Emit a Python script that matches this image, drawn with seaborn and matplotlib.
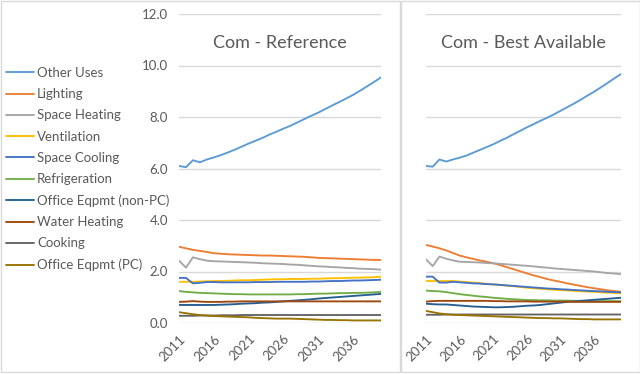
import matplotlib
matplotlib.use('Agg')
import matplotlib.pyplot as plt
from matplotlib.patches import Rectangle
from matplotlib.lines import Line2D
import pandas as pd
import seaborn as sns

# Data
years = list(range(2011, 2041))
uses = ['Other Uses', 'Lighting', 'Space Heating', 'Ventilation', 'Space Cooling',
        'Refrigeration', 'Office Eqpmt (non-PC)', 'Water Heating', 'Cooking', 'Office Eqpmt (PC)']
colors = ['#5B9BD5', '#ED7D31', '#A5A5A5', '#FFC000', '#4472C4',
          '#70AD47', '#255E91', '#9E480E', '#636363', '#997300']
xtick_years = [2011, 2016, 2021, 2026, 2031, 2036]
yticks = [0, 2, 4, 6, 8, 10, 12]

# Com - Reference
ref_other_uses = [6.10, 6.05, 6.32, 6.24, 6.35, 6.43, 6.52, 6.62, 6.73, 6.85,
                  6.97, 7.08, 7.19, 7.32, 7.43, 7.55, 7.66, 7.79, 7.92, 8.05,
                  8.17, 8.31, 8.45, 8.58, 8.72, 8.86, 9.02, 9.19, 9.36, 9.54]
ref_lighting = [2.96, 2.90, 2.84, 2.80, 2.76, 2.71, 2.69, 2.67, 2.66, 2.65,
                2.64, 2.63, 2.62, 2.62, 2.61, 2.60, 2.59, 2.58, 2.57, 2.55,
                2.53, 2.52, 2.51, 2.50, 2.49, 2.48, 2.47, 2.46, 2.45, 2.45]
ref_space_heating = [2.42, 2.15, 2.55, 2.48, 2.42, 2.40, 2.39, 2.38, 2.37, 2.36,
                     2.35, 2.34, 2.32, 2.31, 2.30, 2.29, 2.27, 2.26, 2.24, 2.22,
                     2.20, 2.19, 2.17, 2.16, 2.14, 2.13, 2.11, 2.10, 2.09, 2.07]
ref_ventilation = [1.60, 1.60, 1.60, 1.61, 1.62, 1.63, 1.63, 1.64, 1.65, 1.66,
                   1.66, 1.67, 1.68, 1.69, 1.70, 1.70, 1.71, 1.71, 1.71, 1.72,
                   1.72, 1.73, 1.74, 1.74, 1.75, 1.76, 1.76, 1.77, 1.78, 1.80]
ref_space_cooling = [1.75, 1.75, 1.54, 1.56, 1.59, 1.59, 1.58, 1.58, 1.58, 1.58,
                     1.58, 1.59, 1.59, 1.59, 1.60, 1.60, 1.60, 1.60, 1.60, 1.61,
                     1.61, 1.62, 1.63, 1.63, 1.64, 1.65, 1.65, 1.66, 1.67, 1.68]
ref_refrigeration = [1.24, 1.21, 1.19, 1.17, 1.16, 1.15, 1.14, 1.13, 1.12, 1.12,
                     1.11, 1.11, 1.11, 1.11, 1.11, 1.11, 1.11, 1.12, 1.12, 1.13,
                     1.14, 1.14, 1.15, 1.16, 1.16, 1.17, 1.17, 1.18, 1.19, 1.21]
ref_office_nonpc = [0.70, 0.70, 0.70, 0.70, 0.70, 0.70, 0.71, 0.72, 0.73, 0.75,
                    0.76, 0.77, 0.79, 0.80, 0.82, 0.84, 0.86, 0.88, 0.90, 0.92,
                    0.95, 0.97, 0.99, 1.01, 1.03, 1.05, 1.07, 1.09, 1.11, 1.13]
ref_water_heating = [0.82, 0.83, 0.85, 0.83, 0.82, 0.82, 0.82, 0.83, 0.83, 0.84,
                     0.84, 0.84, 0.84, 0.84, 0.84, 0.84, 0.84, 0.84, 0.84, 0.84,
                     0.84, 0.84, 0.84, 0.84, 0.84, 0.84, 0.84, 0.84, 0.84, 0.84]
ref_cooking = [0.28, 0.28, 0.28, 0.29, 0.29, 0.29, 0.30, 0.30, 0.30, 0.31,
               0.31, 0.31, 0.31, 0.31, 0.31, 0.31, 0.31, 0.31, 0.31, 0.31,
               0.31, 0.31, 0.31, 0.31, 0.31, 0.31, 0.31, 0.31, 0.31, 0.31]
ref_office_pc = [0.42, 0.38, 0.34, 0.31, 0.29, 0.27, 0.26, 0.25, 0.24, 0.23,
                 0.22, 0.20, 0.19, 0.18, 0.17, 0.17, 0.17, 0.16, 0.15, 0.14,
                 0.13, 0.12, 0.12, 0.11, 0.11, 0.10, 0.10, 0.10, 0.10, 0.10]

# Com - Best Available
ba_other_uses = [6.10, 6.07, 6.35, 6.27, 6.35, 6.42, 6.50, 6.61, 6.72, 6.83,
                 6.94, 7.07, 7.19, 7.33, 7.46, 7.60, 7.72, 7.85, 7.97, 8.10,
                 8.24, 8.38, 8.52, 8.67, 8.83, 8.98, 9.15, 9.32, 9.50, 9.67]
ba_lighting = [3.03, 2.97, 2.90, 2.82, 2.72, 2.62, 2.55, 2.49, 2.43, 2.38,
               2.32, 2.25, 2.17, 2.09, 2.01, 1.93, 1.85, 1.78, 1.71, 1.65,
               1.60, 1.54, 1.49, 1.44, 1.39, 1.35, 1.31, 1.27, 1.24, 1.21]
ba_space_heating = [2.47, 2.21, 2.58, 2.50, 2.43, 2.38, 2.37, 2.36, 2.35, 2.33,
                    2.32, 2.30, 2.28, 2.26, 2.24, 2.22, 2.20, 2.17, 2.15, 2.12,
                    2.10, 2.08, 2.06, 2.04, 2.02, 2.00, 1.97, 1.94, 1.92, 1.90]
ba_ventilation = [1.63, 1.63, 1.63, 1.63, 1.63, 1.61, 1.59, 1.57, 1.55, 1.52,
                  1.50, 1.48, 1.45, 1.43, 1.40, 1.37, 1.35, 1.33, 1.31, 1.29,
                  1.28, 1.26, 1.25, 1.23, 1.22, 1.21, 1.19, 1.18, 1.17, 1.15]
ba_space_cooling = [1.80, 1.80, 1.57, 1.57, 1.60, 1.58, 1.56, 1.54, 1.53, 1.51,
                    1.50, 1.48, 1.46, 1.44, 1.42, 1.40, 1.38, 1.36, 1.34, 1.33,
                    1.31, 1.30, 1.28, 1.27, 1.25, 1.24, 1.23, 1.21, 1.20, 1.19]
ba_refrigeration = [1.26, 1.24, 1.23, 1.20, 1.16, 1.12, 1.09, 1.06, 1.03, 1.01,
                    0.98, 0.96, 0.94, 0.92, 0.91, 0.89, 0.89, 0.88, 0.88, 0.87,
                    0.87, 0.87, 0.86, 0.86, 0.86, 0.85, 0.85, 0.85, 0.85, 0.85]
ba_office_nonpc = [0.75, 0.73, 0.72, 0.72, 0.70, 0.68, 0.66, 0.64, 0.63, 0.62,
                   0.61, 0.61, 0.62, 0.63, 0.65, 0.67, 0.68, 0.70, 0.73, 0.76,
                   0.79, 0.82, 0.84, 0.86, 0.88, 0.90, 0.92, 0.94, 0.96, 0.98]
ba_water_heating = [0.83, 0.85, 0.86, 0.86, 0.86, 0.86, 0.86, 0.86, 0.86, 0.86,
                    0.85, 0.85, 0.84, 0.84, 0.84, 0.84, 0.83, 0.83, 0.83, 0.83,
                    0.83, 0.83, 0.82, 0.82, 0.82, 0.82, 0.82, 0.82, 0.82, 0.82]
ba_cooking = [0.32, 0.32, 0.32, 0.33, 0.33, 0.33, 0.33, 0.33, 0.33, 0.33,
              0.33, 0.33, 0.33, 0.33, 0.33, 0.33, 0.33, 0.33, 0.33, 0.33,
              0.33, 0.33, 0.33, 0.33, 0.33, 0.33, 0.33, 0.33, 0.33, 0.33]
ba_office_pc = [0.47, 0.42, 0.37, 0.34, 0.32, 0.31, 0.30, 0.29, 0.28, 0.27,
                0.26, 0.25, 0.24, 0.23, 0.22, 0.21, 0.20, 0.19, 0.19, 0.18,
                0.18, 0.17, 0.16, 0.15, 0.15, 0.14, 0.14, 0.14, 0.14, 0.14]

ref_series = [ref_other_uses, ref_lighting, ref_space_heating, ref_ventilation, ref_space_cooling,
              ref_refrigeration, ref_office_nonpc, ref_water_heating, ref_cooking, ref_office_pc]
ba_series = [ba_other_uses, ba_lighting, ba_space_heating, ba_ventilation, ba_space_cooling,
             ba_refrigeration, ba_office_nonpc, ba_water_heating, ba_cooking, ba_office_pc]


def to_long(series):
    df = pd.DataFrame(dict(zip(uses, series)), index=years)
    df.index.name = 'Year'
    return df.reset_index().melt(id_vars='Year', var_name='Use', value_name='Value')


sns.set_theme(style='white')
plt.rcParams['font.family'] = ['Lato', 'DejaVu Sans']
text_color = '#595959'
grid_color = '#D9D9D9'

fig = plt.figure(figsize=(6.4, 3.74), dpi=100)
W, H = 640, 374
ax1 = fig.add_axes([179 / W, (H - 323) / H, 202 / W, 309 / H])
ax2 = fig.add_axes([426 / W, (H - 323) / H, 195 / W, 309 / H])

for ax, series, title in [(ax1, ref_series, 'Com - Reference'),
                          (ax2, ba_series, 'Com - Best Available')]:
    sns.lineplot(data=to_long(series), x='Year', y='Value', hue='Use', hue_order=uses,
                 palette=colors, linewidth=1.35, ax=ax, legend=False)
    ax.set_xlim(2011, 2040)
    ax.set_ylim(0, 12)
    ax.set_yticks(yticks)
    ax.set_xticks(xtick_years)
    ax.set_xticklabels([str(y) for y in xtick_years], rotation=45, ha='right',
                       rotation_mode='anchor', color=text_color, fontsize=9.5)
    ax.yaxis.grid(True, color=grid_color, linewidth=1)
    ax.set_axisbelow(True)
    for s in ax.spines.values():
        s.set_visible(False)
    ax.tick_params(axis='x', length=0, pad=7)
    ax.tick_params(axis='y', length=0, pad=8)
    ax.set_xlabel('')
    ax.set_ylabel('')
    ax.text(0.5, 0.906, title, transform=ax.transAxes, ha='center', va='center',
            fontsize=13, color=text_color)

ax1.set_yticklabels([f'{v:.1f}' for v in yticks], color=text_color, fontsize=9.5)
ax2.set_yticklabels([])

handles = [Line2D([], [], color=c, linewidth=1.35) for c in colors]
fig.legend(handles, uses, loc='upper left', bbox_to_anchor=(6 / W, 1 - 67 / H),
           frameon=False, fontsize=9.5, labelcolor=text_color, handlelength=2.1,
           handletextpad=0.25, labelspacing=0.7, borderpad=0, borderaxespad=0)

# chart-area borders like the two side-by-side Excel charts
fig.add_artist(Rectangle((0.5 / W, 2 / H), 399 / W, (H - 2.5) / H, transform=fig.transFigure,
                         fill=False, edgecolor=grid_color, linewidth=1))
fig.add_artist(Rectangle((400.5 / W, 2 / H), 239 / W, (H - 2.5) / H, transform=fig.transFigure,
                         fill=False, edgecolor=grid_color, linewidth=1))

fig.savefig('out.png', dpi=100)
